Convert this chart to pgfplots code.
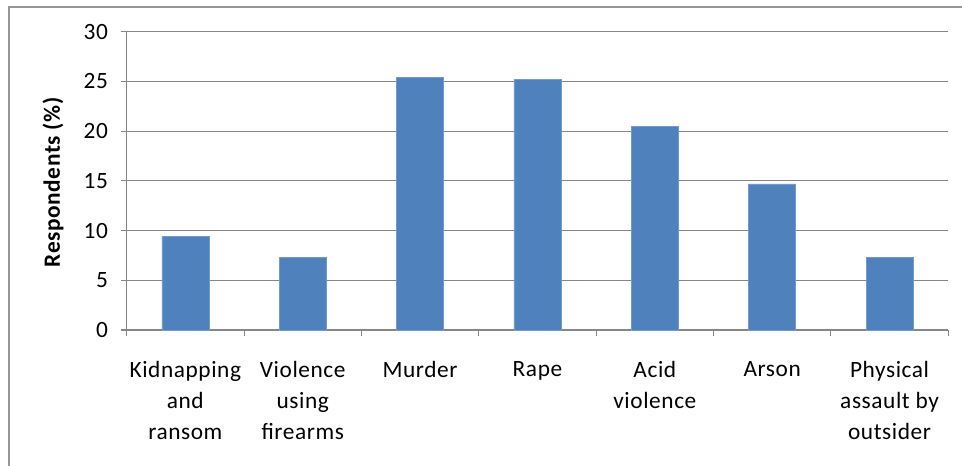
\documentclass[border=0pt]{standalone}
\usepackage{fontspec}
\setmainfont{Carlito}[LetterSpace=2.5]
\usepackage{pgfplots}
\pgfplotsset{compat=1.18}
\definecolor{barblue}{HTML}{4F81BD}
\definecolor{gridgray}{RGB}{134,134,134}
\definecolor{framegray}{RGB}{150,150,150}
\begin{document}
\begin{tikzpicture}
\useasboundingbox (0,0) rectangle (721.5pt,349.5pt);
\draw[framegray, line width=0.8pt] (6.75pt,-2pt) -- (6.75pt,344.25pt) -- (723pt,344.25pt);
\begin{axis}[
  at={(95.0pt,102.0pt)}, anchor=south west,
  scale only axis, width=616.2pt, height=223.7pt,
  xmin=-0.5, xmax=6.5, ymin=0, ymax=30,
  ytick={0,5,...,30},
  xtick={0,1,2,3,4,5,6},
  xticklabels={{Kidnapping\\and\\ransom},{Violence\\using\\firearms},{Murder},{Rape},{Acid\\violence},{Arson},{Physical\\assault by\\outsider}},
  minor xtick={-0.5,0.5,...,6.5},
  major x tick style={draw=none},
  minor x tick style={gridgray, line width=0.8pt},
  y tick style={gridgray, line width=0.8pt},
  tick align=outside,
  major tick length=4.5pt, minor tick length=4.5pt,
  ymajorgrids, grid style={gridgray, line width=0.8pt},
  axis line style={gridgray, line width=0.8pt},
  axis x line*=bottom, axis y line*=left,
  separate axis lines,
  x axis line style={-}, y axis line style={-},
  hide obscured x ticks=false,
  tick label style={font=\fontsize{17.5}{23.3}\selectfont, text=black},
  xticklabel style={align=center, anchor=north, yshift=-15.5pt},
  yticklabel style={xshift=-6pt},
  /pgf/number format/assume math mode=true,
  ylabel={\textbf{Respondents (\%)}},
  ylabel style={font=\fontsize{17.5}{20}\selectfont, at={(axis description cs:-0.0897,0.496)}, anchor=center},
  clip=false,
]
\addplot[ybar, bar width=0.4, fill=barblue, draw=barblue!80!white] coordinates {
  (0,9.45) (1,7.3) (2,25.4) (3,25.2) (4,20.5) (5,14.7) (6,7.3)
};
\end{axis}
\end{tikzpicture}
\end{document}
